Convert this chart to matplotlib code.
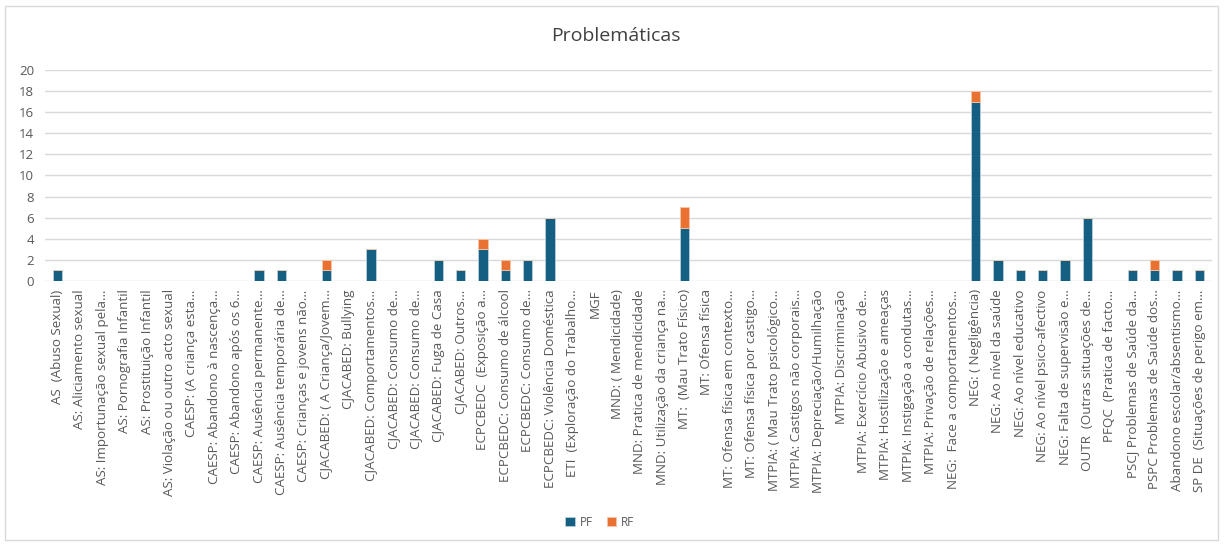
import matplotlib.pyplot as plt
import numpy as np

plt.rcParams['font.family'] = ['Open Sans', 'DejaVu Sans']

# Categories (labels as shown, truncated like the original chart)
categories = [
    'AS  (Abuso Sexual)', 'AS: Aliciamento sexual', 'AS: Importunação sexual pela…',
    'AS: Pornografia Infantil', 'AS: Prostituição Infantil', 'AS: Violação ou outro acto sexual',
    'CAESP: (A criança esta…', 'CAESP: Abandono à nascença…', 'CAESP: Abandono após os 6…',
    'CAESP: Ausência permanente…', 'CAESP: Ausência temporária de…', 'CAESP: Crianças e jovens não…',
    'CJACABED: ( A Criança/Jovem…', 'CJACABED: Bullying', 'CJACABED: Comportamentos…',
    'CJACABED: Consumo de…', 'CJACABED: Consumo de…', 'CJACABED: Fuga de Casa',
    'CJACABED: Outros…', 'ECPCBEDC  (Exposição a…', 'ECPCBEDC: Consumo de álcool',
    'ECPCBEDC: Consumo de…', 'ECPCBEDC: Violência Doméstica', 'ETI  (Exploração do Trabalho…',
    'MGF', 'MND: ( Mendicidade)', 'MND: Pratica de mendicidade',
    'MND: Utilização da criança na…', 'MT:  (Mau Trato Físico)', 'MT: Ofensa física',
    'MT: Ofensa física em contexto…', 'MT: Ofensa física por castigo…', 'MTPIA: ( Mau Trato psicológico…',
    'MTPIA: Castigos não corporais…', 'MTPIA: Depreciação/Humilhação', 'MTPIA: Discriminação',
    'MTPIA: Exercício Abusivo de…', 'MTPIA: Hostilização e ameaças', 'MTPIA: Instigação a condutas…',
    'MTPIA: Privação de relações…', 'NEG:  Face a comportamentos…', 'NEG: ( Negligência)',
    'NEG: Ao nível da saúde', 'NEG: Ao nível educativo', 'NEG: Ao nível psico-afectivo',
    'NEG: Falta de supervisão e…', 'OUTR  (Outras situações de…', 'PFQC  (Pratica de facto…',
    'PSCJ Problemas de Saúde da…', 'PSPC Problemas de Saúde dos…', 'Abandono escolar/absentismo…',
    'SP DE  (Situações de perigo em…',
]

pf = [1, 0, 0, 0, 0, 0, 0, 0, 0, 1, 1, 0, 1, 0, 3, 0, 0, 2, 1, 3, 1, 2, 6, 0, 0, 0,
      0, 0, 5, 0, 0, 0, 0, 0, 0, 0, 0, 0, 0, 0, 0, 17, 2, 1, 1, 2, 6, 0, 1, 1, 1, 1]
rf = [0, 0, 0, 0, 0, 0, 0, 0, 0, 0, 0, 0, 1, 0, 0, 0, 0, 0, 0, 1, 1, 0, 0, 0, 0, 0,
      0, 0, 2, 0, 0, 0, 0, 0, 0, 0, 0, 0, 0, 0, 0, 1, 0, 0, 0, 0, 0, 0, 0, 1, 0, 0]

fig = plt.figure(figsize=(12.24, 5.51), dpi=100)
ax = fig.add_axes([0.037, 0.49, 0.953, 0.383])

x = np.arange(len(categories))
ax.bar(x, pf, width=0.42, color='#156082', edgecolor='#b9cfdc', linewidth=0.6, label='PF', zorder=3)
ax.bar(x, rf, width=0.42, bottom=pf, color='#e97132', edgecolor='#f6c6a8', linewidth=0.6, label='RF', zorder=3)

ax.set_ylim(0, 20)
ax.set_yticks(range(0, 21, 2))
ax.set_xlim(-0.55, len(categories) - 0.45)
ax.set_xticks(x)
ax.set_xticklabels(categories, rotation=90, fontsize=9.6, color='#595959')
ax.tick_params(axis='y', labelsize=9.5, colors='#595959', length=0, pad=8)
ax.tick_params(axis='x', length=0, pad=6)
ax.grid(axis='y', color='#d9d9d9', linewidth=1, zorder=0)
for s in ax.spines.values():
    s.set_visible(False)

fig.text(0.503, 0.935, 'Problemáticas', ha='center', va='center', fontsize=14, color='#404040')
fig.legend(loc='center', bbox_to_anchor=(0.49, 0.052), ncol=2, frameon=False,
           fontsize=8.5, handlelength=0.8, handleheight=0.8, columnspacing=1.2,
           handletextpad=0.4, labelcolor='#595959')

# outer chart border
fig.add_artist(plt.Rectangle((0.004, 0.02), 0.991, 0.97, transform=fig.transFigure,
                             fill=False, edgecolor='#d9d9d9', linewidth=1))

fig.savefig('out.png', dpi=100)
